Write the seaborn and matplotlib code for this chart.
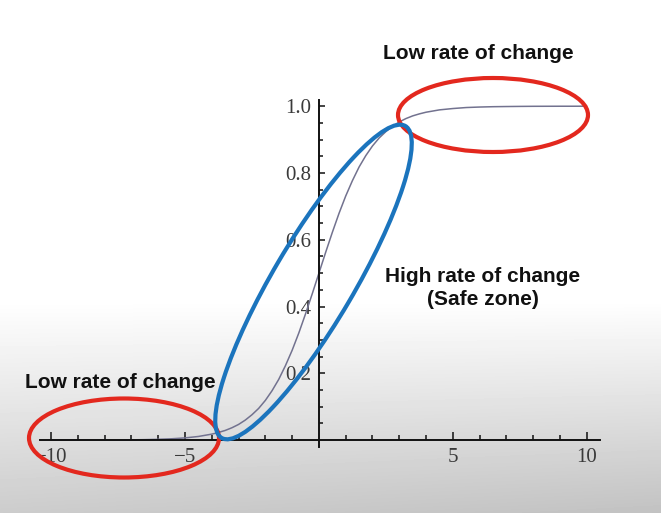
"""Sigmoid curve with the low / high rate-of-change regions circled."""
import numpy as np
import pandas as pd
import seaborn as sns
import matplotlib
matplotlib.use("Agg")
import matplotlib.pyplot as plt
from matplotlib.patches import Ellipse

# values
X_VALUES = [-10, -9.5, -9, -8.5, -8, -7.5, -7, -6.5, -6, -5.5, -5, -4.5, -4,
            -3.75, -3.5, -3.25, -3, -2.75, -2.5, -2.25, -2, -1.75, -1.5, -1.25,
            -1, -0.75, -0.5, -0.25, 0, 0.25, 0.5, 0.75, 1, 1.25, 1.5, 1.75, 2,
            2.25, 2.5, 2.75, 3, 3.25, 3.5, 3.75, 4, 4.5, 5, 5.5, 6, 6.5, 7, 7.5,
            8, 8.5, 9, 9.5, 10]
Y_VALUES = [0.0000, 0.0001, 0.0001, 0.0002, 0.0003, 0.0006, 0.0009, 0.0015, 0.0025,
            0.0041, 0.0067, 0.011, 0.018,
            0.023, 0.029, 0.037, 0.047, 0.060, 0.076, 0.095, 0.119, 0.148, 0.182, 0.223,
            0.269, 0.321, 0.378, 0.438, 0.500, 0.562, 0.622, 0.679, 0.731, 0.777, 0.818,
            0.852, 0.881, 0.905, 0.924, 0.940, 0.953, 0.963, 0.971, 0.977, 0.982,
            0.989, 0.993, 0.996, 0.9975, 0.9985, 0.999, 0.9994, 0.9997, 0.9998,
            0.9999, 0.9999, 1.0]
X_TICKS = [-10, -5, 5, 10]
X_TICK_LABELS = ["\u221210", "\u22125", "5", "10"]
Y_TICKS = [0.2, 0.4, 0.6, 0.8, 1.0]
Y_TICK_LABELS = ["0.2", "0.4", "0.6", "0.8", "1.0"]

W, H = 661, 513

sns.set_theme(style="white")
plt.rcParams["font.family"] = ["Liberation Sans", "DejaVu Sans"]

fig = plt.figure(figsize=(W / 100, H / 100), dpi=100)

# screenshot-like grey fade at the bottom
bg = fig.add_axes([0, 0, 1, 1], zorder=0)
rows = np.arange(H)[:, None]
cols = np.arange(W)[None, :]
t = np.clip((rows - 300) / (H - 300), 0, 1)
shade = 1 - 0.20 * t - 0.04 * t * (cols / W)
bg.imshow(shade, cmap="gray", vmin=0, vmax=1, aspect="auto", extent=(0, W, H, 0))
bg.axis("off")

ax = fig.add_axes([0.061, 0.129, 0.847, 0.677], zorder=1)
ax.set_facecolor("none")
df = pd.DataFrame({"x": X_VALUES, "y": Y_VALUES})
sns.lineplot(data=df, x="x", y="y", ax=ax, color="#72728f", linewidth=1.1)
ax.set_xlim(-10.4, 10.5)
ax.set_ylim(-0.02, 1.02)
ax.set_xlabel("")
ax.set_ylabel("")
for side in ["top", "right"]:
    ax.spines[side].set_visible(False)
for side in ["left", "bottom"]:
    ax.spines[side].set_position("zero")
    ax.spines[side].set_color("#111111")
    ax.spines[side].set_linewidth(1.4)

ax.set_xticks(X_TICKS)
ax.set_xticklabels(X_TICK_LABELS)
ax.set_xticks([v for v in range(-10, 11) if v not in X_TICKS and v != 0], minor=True)
ax.set_yticks(Y_TICKS)
ax.set_yticklabels(Y_TICK_LABELS)
ax.set_yticks([v / 20 for v in range(1, 20) if v % 4 != 0], minor=True)
ax.tick_params(axis="x", which="major", direction="in", length=6, width=1.1,
               color="#111111", pad=6, labelsize=15, labelcolor="#3a3a3a")
ax.tick_params(axis="x", which="minor", direction="in", length=3.8, width=1.1, color="#111111")
ax.tick_params(axis="y", which="major", direction="in", length=4.5, width=1.1,
               color="#111111", pad=5.5, labelsize=15, labelcolor="#3a3a3a")
ax.tick_params(axis="y", which="minor", direction="in", length=3.2, width=1.1, color="#111111")
ax.tick_params(left=True, bottom=True, which="both")
for label in ax.get_xticklabels() + ax.get_yticklabels():
    label.set_family(["Liberation Serif", "DejaVu Serif"])

# overlay in pixel units for the hand-drawn marks and notes
ov = fig.add_axes([0, 0, 1, 1], zorder=3)
ov.set_xlim(0, W)
ov.set_ylim(H, 0)
ov.axis("off")
ov.set_facecolor("none")
red, blue = "#e3281e", "#1b74bd"
ov.add_patch(Ellipse((493, 115), 190, 74, fill=False, edgecolor=red, linewidth=3))
ov.add_patch(Ellipse((124, 438), 190, 79, fill=False, edgecolor=red, linewidth=3))
ov.add_patch(Ellipse((313.5, 282), 362, 81, angle=-59.5, fill=False, edgecolor=blue, linewidth=3))

note = dict(ha="center", va="baseline", fontsize=15, fontweight="bold", color="#111111")
ov.text(478.5, 59, "Low rate of change", **note)
ov.text(482.5, 282, "High rate of change", **note)
ov.text(482.5, 305, "(Safe zone)", **note)
ov.text(120.5, 388, "Low rate of change", **note)

fig.savefig("out.png", dpi=100)
plt.close(fig)
